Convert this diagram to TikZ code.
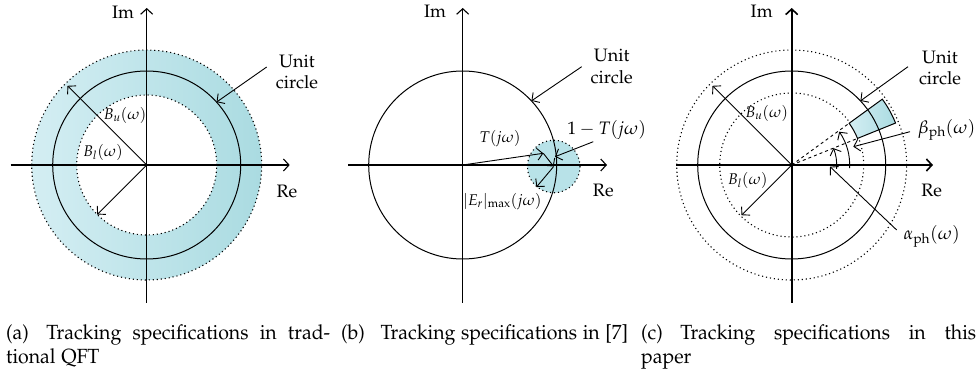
\documentclass[tikz,border=0pt]{standalone}
\usepackage[T1]{fontenc}
\usepackage[sc]{mathpazo}
\usepackage{graphicx}
\usepackage{xcolor}
\definecolor{ringLight}{HTML}{D4EEF3}
\definecolor{ringDark}{HTML}{AADBE1}
\definecolor{spotFill}{HTML}{B8E2E8}
\usepackage{tikz}
\usetikzlibrary{arrows.meta, positioning}
\newcommand{\capline}[1]{\scalebox{0.95}[1]{#1}}

\begin{document}
\begin{tikzpicture}[
    x=1pt, y=1pt,
    axis/.style={line width=1.1pt, -{Straight Barb[length=5.5pt,width=12pt]}},
    unitc/.style={line width=1pt},
    bound/.style={line width=1.1pt, dash pattern=on 1.1pt off 2.9pt},
    pointer/.style={line width=0.9pt, -{Straight Barb[length=5.5pt,width=12pt]}},
    lbl/.style={inner sep=0pt, align=center, font=\fontsize{18}{21.5}\selectfont},
    sml/.style={inner sep=0pt, font=\fontsize{15.5}{18}\selectfont},
    capt/.style={inner sep=0pt, anchor=base west, font=\fontsize{20.5}{24}\selectfont}
]
\useasboundingbox (0,0) rectangle (980,375);

% (a) classical QFT bounds
\begin{scope}[shift={(146.7,210)}]
\path[left color=ringLight, right color=ringDark, even odd rule]
    (0,0) circle (115) (0,0) circle (70);
\draw[bound] (0,0) circle (115) (0,0) circle (70);
\draw[unitc] (0,0) circle (94);
\coordinate (a-o) at (0,0);
\coordinate (a-w) at (-136,0);
\coordinate (a-e) at (143,0);
\coordinate (a-s) at (0,-138);
\coordinate (a-n) at (0,157);
\draw[axis] (a-w) -- (a-e);
\draw[axis] (a-s) -- (a-n);
\node[lbl] (a-im) at (-23.7,153) {Im};
\node[lbl] (a-re) at (140.3,-26) {Re};
\coordinate (a-bu) at (135:112);
\coordinate (a-bl) at (225:70);
\draw[pointer] (a-o) -- (a-bu);
\draw[pointer] (a-o) -- (a-bl);
\node[sml] (a-bulbl) at (-21.7,50) {$B_u(\omega)$};
\node[sml] (a-bllbl) at (-43.7,13) {$B_l(\omega)$};
\node[lbl] (a-unit) at (150.3,93) {Unit\\circle};
\coordinate (a-from) at (120,98);
\coordinate (a-hit) at (42:94);
\draw[pointer] (a-from) -- (a-hit);
\end{scope}

% (b) error disc around the critical point
\begin{scope}[shift={(462.7,210)}]
\node[circle, fill=spotFill, bound, draw, minimum size=52.6pt, inner sep=0pt]
    (b-spot) at (91,-1.5) {};
\draw[unitc] (0,0) circle (94);
\coordinate (b-o) at (0,0);
\coordinate (b-w) at (-114.7,0);
\coordinate (b-e) at (144.3,0);
\coordinate (b-s) at (0,-138);
\coordinate (b-n) at (0,157);
\draw[axis] (b-w) -- (b-e);
\draw[axis] (b-s) -- (b-n);
\node[lbl] (b-im) at (-27.7,153.3) {Im};
\node[lbl] (b-re) at (140.6,-25.7) {Re};
\coordinate (b-t) at (80.6,11.7);
\draw[pointer] (b-o) -- (b-t);
\draw[pointer] (b-t) -- (b-spot.center);
\draw[pointer] (b-spot.center) -- (b-spot.230);
\node[sml] (b-tlbl) at (37.3,26.7) {$T(j\omega)$};
\node[lbl] (b-dlbl) at (144,35) {$1-T(j\omega)$};
\coordinate (b-dfrom) at (130.6,23.3);
\coordinate (b-dto) at (92.3,8.3);
\draw[pointer] (b-dfrom) -- (b-dto);
\node[sml] (b-elbl) at (39.6,-36.7) {$|E_r|_{\max}(j\omega)$};
\node[lbl] (b-unit) at (149,98.3) {Unit\\circle};
\coordinate (b-from) at (119,98.3);
\coordinate (b-hit) at (43:94);
\draw[pointer] (b-from) -- (b-hit);
\end{scope}

% (c) magnitude and phase bounds
\begin{scope}[shift={(791.7,210)}]
\draw[bound] (0,0) circle (115) (0,0) circle (72);
\draw[left color=ringLight, right color=ringDark, line width=1pt]
    (22:71) arc[start angle=22, end angle=36, radius=71]
    -- (36:112) arc[start angle=36, end angle=22, radius=112] -- cycle;
\draw[unitc] (0,0) circle (94);
\coordinate (c-o) at (0,0);
\coordinate (c-w) at (-115.7,0);
\coordinate (c-e) at (141.3,0);
\coordinate (c-s) at (0,-138);
\coordinate (c-n) at (0,157);
\draw[axis, line width=1.6pt] (c-w) -- (c-e);
\draw[axis, line width=1.6pt] (c-s) -- (c-n);
\node[lbl] (c-im) at (-30,153.3) {Im};
\node[lbl] (c-re) at (140,-25.7) {Re};
\coordinate (c-d1) at (36:71);
\coordinate (c-d2) at (22:71);
\draw[line width=0.9pt, dashed] (c-o) -- (c-d1);
\draw[line width=0.9pt, dashed] (c-o) -- (c-d2);
\coordinate (c-bu) at (135:112);
\coordinate (c-bl) at (225:71);
\draw[pointer] (c-o) -- (c-bu);
\draw[pointer] (c-o) -- (c-bl);
\node[sml] (c-bulbl) at (-25,51.7) {$B_u(\omega)$};
\node[sml] (c-bllbl) at (-44,-15) {$B_l(\omega)$};
\coordinate (c-a0) at (-5:45);
\draw[pointer] (c-a0) arc[start angle=-5, end angle=22, radius=45];
\coordinate (c-b0) at (-3:58);
\draw[pointer] (c-b0) arc[start angle=-3, end angle=35, radius=58];
\node[lbl] (c-alpha) at (140,-71.7) {$\alpha_{\mathrm{ph}}(\omega)$};
\coordinate (c-afrom) at (105,-65);
\coordinate (c-ato) at (38.3,-1.7);
\draw[pointer] (c-afrom) -- (c-ato);
\node[lbl] (c-beta) at (155,35) {$\beta_{\mathrm{ph}}(\omega)$};
\coordinate (c-bfrom) at (118.3,33.3);
\coordinate (c-bto) at (61.6,18.3);
\draw[pointer] (c-bfrom) -- (c-bto);
\node[lbl] (c-unit) at (148.3,97) {Unit\\circle};
\coordinate (c-from) at (116.3,98.3);
\coordinate (c-hit) at (43:94);
\draw[pointer] (c-from) -- (c-hit);
\end{scope}

% captions
\node[capt] (cap-a1) at (6,36) {\capline{\makebox[341pt][s]{(a)\hspace{0.9em}Tracking specifications in trad-}}};
\node[capt] (cap-a2) at (6,12) {\capline{tional QFT}};
\node[capt] (cap-b1) at (341,36) {\capline{(b)\hspace{0.8em}Tracking specifications in [7]}};
\node[capt] (cap-c1) at (641,36) {\capline{\makebox[352.6pt][s]{(c)\hspace{0.9em}Tracking specifications in this}}};
\node[capt] (cap-c2) at (641,12) {\capline{paper}};
\end{tikzpicture}
\end{document}
